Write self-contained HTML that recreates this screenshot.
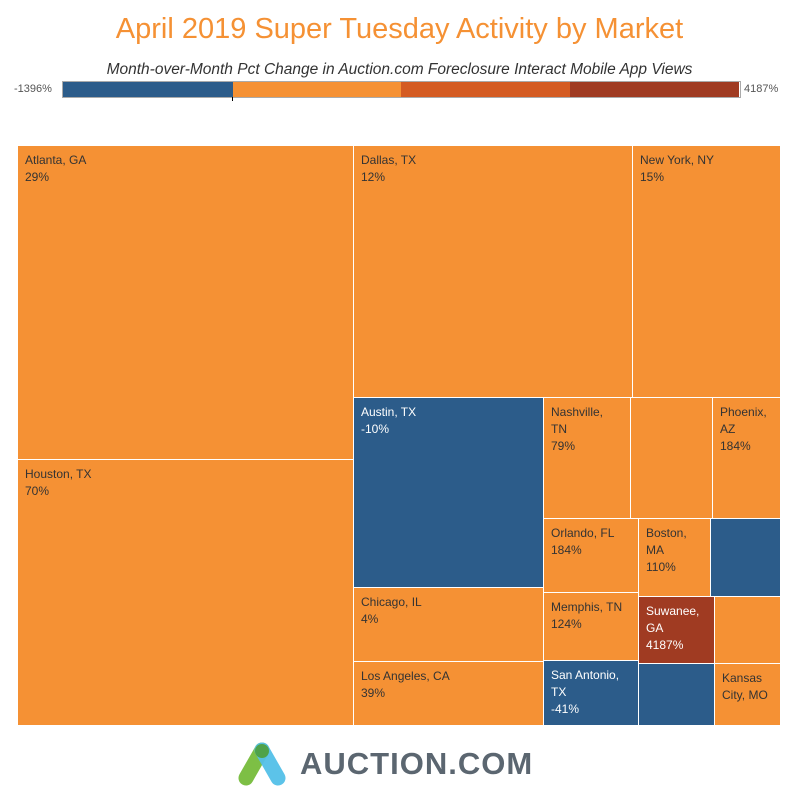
<!DOCTYPE html>
<html><head><meta charset="utf-8"><style>
body{margin:0;width:799px;height:799px;background:#fff;position:relative;overflow:hidden;font-family:"Liberation Sans",sans-serif}
.t{position:absolute;left:0;width:799px;text-align:center}
.c{position:absolute;box-sizing:border-box;border:1px solid #fff;font-size:12px;line-height:17px;padding:6px 0 0 7px;color:#333}
.o{background:#F59134}.b{background:#2C5C8A;color:#fff}.r{background:#A03B22;color:#fff}
.bar{position:absolute;top:82px;height:15px}
</style></head><body>
<div class="t" style="top:13px;font-size:29px;color:#F59134">April 2019 Super Tuesday Activity by Market</div>
<div class="t" style="top:61px;font-size:15.5px;font-style:italic;color:#333">Month-over-Month Pct Change in Auction.com Foreclosure Interact Mobile App Views</div>
<div style="position:absolute;left:14px;top:83px;font-size:11px;color:#555">-1396%</div>
<div style="position:absolute;left:744px;top:83px;font-size:11px;color:#555">4187%</div>
<div class="bar" style="left:63px;width:170px;background:#2C5C8A"></div>
<div class="bar" style="left:233px;width:168px;background:#F59134"></div>
<div class="bar" style="left:401px;width:169px;background:#D45B22"></div>
<div class="bar" style="left:570px;width:169px;background:#A03B22"></div>
<div style="position:absolute;left:62px;top:81px;width:677px;height:15px;border:1px solid #aaa"></div>
<div style="position:absolute;left:232px;top:97px;width:1px;height:4px;background:#000"></div>

<div class="c o" style="left:17px;top:145px;width:337px;height:315px">Atlanta, GA<br>29%</div>
<div class="c o" style="left:17px;top:459px;width:337px;height:267px">Houston, TX<br>70%</div>
<div class="c o" style="left:353px;top:145px;width:280px;height:253px">Dallas, TX<br>12%</div>
<div class="c o" style="left:632px;top:145px;width:149px;height:253px">New York, NY<br>15%</div>
<div class="c b" style="left:353px;top:397px;width:191px;height:191px">Austin, TX<br>-10%</div>
<div class="c o" style="left:353px;top:587px;width:191px;height:75px">Chicago, IL<br>4%</div>
<div class="c o" style="left:353px;top:661px;width:191px;height:65px">Los Angeles, CA<br>39%</div>
<div class="c o" style="left:543px;top:397px;width:88px;height:122px">Nashville,<br>TN<br>79%</div>
<div class="c o" style="left:630px;top:397px;width:83px;height:122px"></div>
<div class="c o" style="left:712px;top:397px;width:69px;height:122px">Phoenix,<br>AZ<br>184%</div>
<div class="c o" style="left:543px;top:518px;width:96px;height:75px">Orlando, FL<br>184%</div>
<div class="c o" style="left:638px;top:518px;width:73px;height:79px">Boston,<br>MA<br>110%</div>
<div class="c b" style="left:710px;top:518px;width:71px;height:79px"></div>
<div class="c o" style="left:543px;top:592px;width:96px;height:69px">Memphis, TN<br>124%</div>
<div class="c r" style="left:638px;top:596px;width:77px;height:68px">Suwanee,<br>GA<br>4187%</div>
<div class="c o" style="left:714px;top:596px;width:67px;height:68px"></div>
<div class="c b" style="left:543px;top:660px;width:96px;height:66px">San Antonio,<br>TX<br>-41%</div>
<div class="c b" style="left:638px;top:663px;width:77px;height:63px"></div>
<div class="c o" style="left:714px;top:663px;width:67px;height:63px">Kansas<br>City, MO</div>

<svg style="position:absolute;left:234px;top:740px" width="60" height="48" viewBox="0 0 60 48">
<line x1="12" y1="38" x2="28" y2="10" stroke="#7DBF45" stroke-width="15" stroke-linecap="round"/>
<line x1="28" y1="10" x2="44" y2="38" stroke="#54C0E8" stroke-width="15" stroke-linecap="round" opacity="0.95"/>
<circle cx="28" cy="11" r="7" fill="#4FA24A"/>
</svg>
<div style="position:absolute;left:300px;top:746px;font-size:31px;font-weight:bold;letter-spacing:1px;color:#5B6670">AUCTION.COM</div>
</body></html>
